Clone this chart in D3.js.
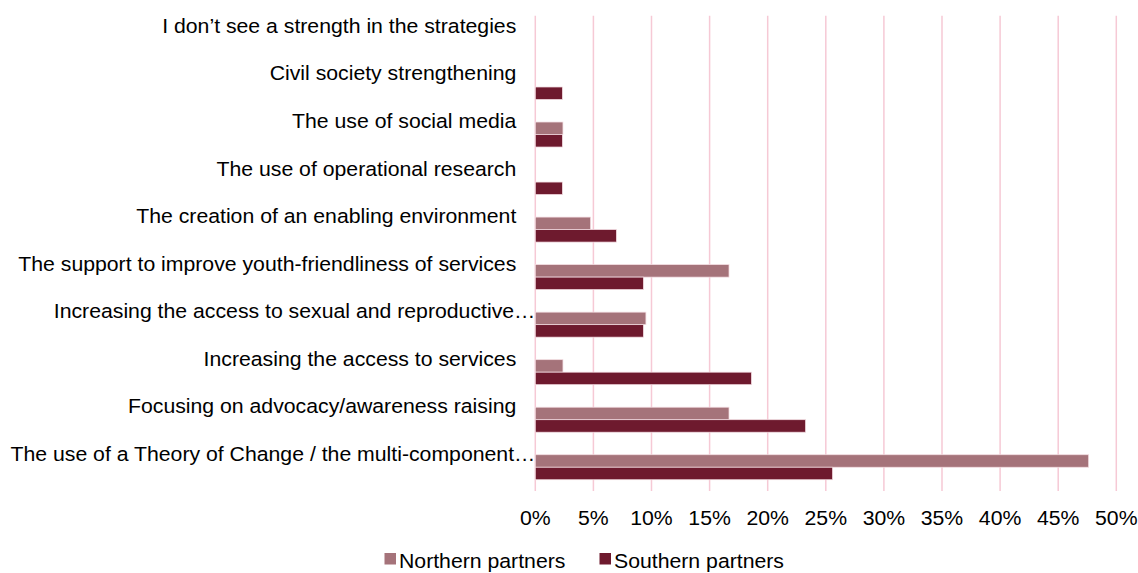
<!DOCTYPE html>
<html>
<head>
<meta charset="utf-8">
<script src="https://cdn.jsdelivr.net/npm/d3@7"></script>
<style>
  body { margin: 0; background: #fff; overflow: hidden; }
  text { font-family: "Liberation Sans", Arial, sans-serif; fill: #000; font-size: 19.5px; }
</style>
</head>
<body>
<div id="chart"></div>
<script>
// Data
var categories = [
  "I don\u2019t see a strength in the strategies",
  "Civil society strengthening",
  "The use of social media",
  "The use of operational research",
  "The creation of an enabling environment",
  "The support to improve youth-friendliness of services",
  "Increasing the access to sexual and reproductive\u2026",
  "Increasing the access to services",
  "Focusing on advocacy/awareness raising",
  "The use of a Theory of Change / the multi-component\u2026"
];
var seriesNames = ["Northern partners", "Southern partners"];
var northern = [0, 0, 2.38, 0, 4.76, 16.67, 9.52, 2.38, 16.67, 47.62];
var southern = [0, 2.33, 2.33, 2.33, 6.98, 9.30, 9.30, 18.60, 23.26, 25.58];
var xTicks = [0, 5, 10, 15, 20, 25, 30, 35, 40, 45, 50];
var colors = ["#a5737a", "#6e1a2e"];

var width = 1138, height = 573;
var margin = {top: 15.7, right: 22, bottom: 82, left: 535.3};
var plotH = height - margin.top - margin.bottom;
var stretch = 1.09; // text in the original is slightly wider than Arial

var svg = d3.select("#chart").append("svg")
    .attr("width", width)
    .attr("height", height);

var g = svg.append("g")
    .attr("transform", "translate(" + margin.left + "," + margin.top + ")");

var x = d3.scaleLinear().domain([0, 50]).range([0, 581]);
var y = d3.scaleBand().domain(categories).range([0, plotH]).padding(0);
var barH = 12.5;
var ySub = d3.scaleBand().domain(seriesNames)
    .range([y.bandwidth() / 2 - barH, y.bandwidth() / 2 + barH]);

// gridlines
g.selectAll(".grid")
  .data(xTicks)
  .enter().append("line")
    .attr("x1", function(d) { return x(d); })
    .attr("x2", function(d) { return x(d); })
    .attr("y1", 0)
    .attr("y2", plotH)
    .attr("stroke", "#f6c9d5")
    .attr("stroke-width", 1.5);

// x tick labels
g.selectAll(".xlab")
  .data(xTicks)
  .enter().append("text")
    .attr("transform", function(d) {
      return "translate(" + x(d) + "," + (plotH + 34) + ") scale(" + stretch + ",1)"; })
    .attr("text-anchor", "middle")
    .text(function(d) { return d + "%"; });

// category labels
g.selectAll(".ylab")
  .data(categories)
  .enter().append("text")
    .attr("transform", function(d) {
      var lx = d.slice(-1) === "\u2026" ? 0 : -19;
      var ly = y(d) + y.bandwidth() / 2 - 6.5;
      return "translate(" + lx + "," + ly + ") scale(" + stretch + ",1)"; })
    .attr("text-anchor", "end")
    .text(function(d) { return d; });

// bars
var rows = categories.map(function(c, i) {
  return {cat: c, values: [
    {series: seriesNames[0], v: northern[i]},
    {series: seriesNames[1], v: southern[i]}
  ]};
});

var grp = g.selectAll(".row")
  .data(rows)
  .enter().append("g")
    .attr("transform", function(d) { return "translate(0," + y(d.cat) + ")"; });

grp.selectAll("rect")
  .data(function(d) { return d.values.filter(function(v) { return v.v > 0; }); })
  .enter().append("rect")
    .attr("x", 0)
    .attr("y", function(d) { return ySub(d.series); })
    .attr("width", function(d) { return x(d.v); })
    .attr("height", ySub.bandwidth())
    .attr("fill", function(d) { return d.series === seriesNames[0] ? colors[0] : colors[1]; })
    .attr("stroke", "#f3dde2")
    .attr("stroke-width", 0.75);

// legend (nudged up a little so the text is not clipped at the bottom)
var legendX = [384.5, 599.5];
var legend = svg.selectAll(".legend")
  .data(seriesNames)
  .enter().append("g")
    .attr("transform", function(d, i) { return "translate(" + legendX[i] + ",553)"; });

legend.append("rect")
  .attr("width", 11.5)
  .attr("height", 11.5)
  .attr("fill", function(d, i) { return colors[i]; });

legend.append("text")
  .attr("transform", "translate(14.5,15) scale(" + stretch + ",1)")
  .text(function(d) { return d; });
</script>
</body>
</html>
